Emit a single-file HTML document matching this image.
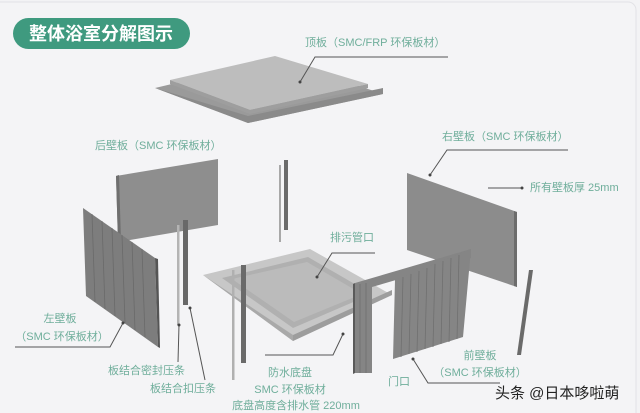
<!DOCTYPE html>
<html><head><meta charset="utf-8"><style>
html,body{margin:0;padding:0;background:#f3f3f5;}
svg{display:block}
text{font-family:"Liberation Sans","Noto Sans CJK SC",sans-serif;}
.l{fill:#6fae9b;font-size:11px}
.ln{stroke:#555;stroke-width:1;fill:none}
</style></head><body>
<svg width="640" height="413" viewBox="0 0 640 413" xmlns="http://www.w3.org/2000/svg">
<rect x="0" y="0" width="640" height="413" fill="#f3f3f5"/>
<rect x="-10" y="2" width="646" height="420" rx="8" fill="#f4f4f6" stroke="#e2e2e6"/>
<!-- title -->
<rect x="13" y="18" width="177" height="31" rx="15.5" fill="#3f9a7f"/>
<text x="101" y="40" font-size="18" font-weight="bold" fill="#fff" text-anchor="middle">整体浴室分解图示</text>

<!-- top panel -->
<polygon points="155,88 277,59 383,94 248,123" fill="#9a9a9a"/>
<polygon points="155,88 248,116 383,88 383,94 248,123" fill="#8a8a8a"/>
<polygon points="170,80 275,56 368,84 250,110" fill="#bdbdbd"/>
<polygon points="170,80 250,110 368,84 368,88 250,114 170,84" fill="#9e9e9e"/>
<text class="l" x="305" y="46">顶板（SMC/FRP 环保板材）</text>
<polyline class="ln" points="448,57 315,57 300,82"/>
<circle cx="300" cy="82" r="1.5" fill="#444"/>

<!-- back wall -->
<text class="l" x="95" y="149">后壁板（SMC 环保板材）</text>
<polygon points="116,176 218,159 218,225 118,242" fill="#8e8e8e"/>
<polygon points="116,176 119,175 121,241 118,242" fill="#6f6f6f"/>

<!-- center rods -->
<rect x="279" y="165" width="2" height="77" fill="#a8a8a8"/>
<rect x="284" y="160" width="4" height="70" fill="#6a6a6a"/>

<!-- right back wall -->
<text class="l" x="442" y="140">右壁板（SMC 环保板材）</text>
<polyline class="ln" points="568,150 447,150 430,175"/>
<circle cx="430" cy="175" r="1.5" fill="#444"/>
<text class="l" x="530" y="191">所有壁板厚 25mm</text>
<line class="ln" x1="488" y1="188" x2="522" y2="188"/>
<circle cx="522" cy="188" r="1.5" fill="#444"/>
<polygon points="407,173 517,212 517,287 407,250" fill="#8c8c8c"/>
<polygon points="514,211 517,212 517,287 514,286" fill="#6c6c6c"/>

<!-- left wall -->
<polygon points="83,208 155,258 158,347 86,296" fill="#7d7d7d"/>
<g stroke="#6a6a6a" stroke-width="0.8">
<line x1="92" y1="214" x2="95" y2="302"/><line x1="102" y1="221" x2="105" y2="309"/><line x1="112" y1="228" x2="115" y2="316"/><line x1="122" y1="235" x2="125" y2="323"/><line x1="132" y1="242" x2="135" y2="330"/><line x1="142" y1="249" x2="145" y2="337"/>
</g>
<polygon points="155,258 158,259 160,348 158,347" fill="#555"/>

<!-- rods left -->
<rect x="177" y="225" width="2.5" height="100" fill="#b4b4b4"/>
<rect x="183" y="220" width="5" height="85" fill="#686868"/>

<!-- tray -->
<polygon points="203,275 310,249 392,295 293,341" fill="#c7c7c7"/>
<polygon points="203,275 293,335 293,341" fill="#a9a9a9"/>
<polygon points="293,335 392,290 392,295 293,341" fill="#9d9d9d"/>
<polygon points="222,278 308,257 372,294 293,328" fill="#b0b0b0"/>
<polygon points="232,279 307,262 362,294 294,322" fill="#bbbbbb"/>
<text class="l" x="330" y="241">排污管口</text>
<polyline class="ln" points="375,253 332,253 317,277"/>
<circle cx="317" cy="277" r="1.5" fill="#444"/>

<!-- rods on tray -->
<rect x="232" y="270" width="2.5" height="110" fill="#b0b0b0"/>
<rect x="241" y="265" width="5" height="98" fill="#6a6a6a"/>

<!-- right rod -->
<polygon points="529,270 533,270 521,355 517,355" fill="#6a6a6a"/>

<!-- front wall -->
<polygon points="355,283 471,249 471,258 372,287 372,373 355,373" fill="#858585"/>
<polygon points="395,280 471,249 463,337 393,359" fill="#858585"/>
<g stroke="#707070" stroke-width="0.8">
<line x1="360" y1="284" x2="360" y2="373"/><line x1="366" y1="283" x2="366" y2="373"/>
<line x1="403" y1="277" x2="401" y2="357"/><line x1="411" y1="274" x2="409" y2="354"/><line x1="419" y1="271" x2="417" y2="352"/><line x1="427" y1="268" x2="425" y2="349"/><line x1="435" y1="264" x2="433" y2="347"/><line x1="443" y1="261" x2="441" y2="344"/><line x1="451" y1="258" x2="449" y2="342"/><line x1="459" y1="255" x2="457" y2="339"/>
</g>
<polygon points="353,284 355,283 355,373 353,374" fill="#5a5a5a"/>

<!-- left labels -->
<text class="l" x="60" y="322" text-anchor="middle">左壁板</text>
<text class="l" x="62" y="340" text-anchor="middle">（SMC 环保板材）</text>
<polyline class="ln" points="15,347 110,347 123,323"/>
<circle cx="123" cy="323" r="1.5" fill="#444"/>
<text class="l" x="108" y="374">板结合密封压条</text>
<polyline class="ln" points="178,362 179,325"/>
<circle cx="179" cy="325" r="1.5" fill="#444"/>
<text class="l" x="150" y="392">板结合扣压条</text>
<polyline class="ln" points="205,380 190,308"/>
<circle cx="190" cy="308" r="1.5" fill="#444"/>

<!-- tray labels -->
<text class="l" x="290" y="376" text-anchor="middle">防水底盘</text>
<text class="l" x="290" y="393" text-anchor="middle">SMC 环保板材</text>
<text class="l" x="296" y="409" text-anchor="middle">底盘高度含排水管 220mm</text>
<polyline class="ln" points="265,355 333,355 343,334"/>
<circle cx="343" cy="334" r="1.5" fill="#444"/>

<!-- front labels -->
<text class="l" x="388" y="385">门口</text>
<polyline class="ln" points="413,359 428,383 500,383"/>
<circle cx="413" cy="359" r="1.5" fill="#444"/>
<text class="l" x="480" y="359" text-anchor="middle">前壁板</text>
<text class="l" x="480" y="376" text-anchor="middle">（SMC 环保板材）</text>

<text x="495" y="398" font-size="15" fill="#222">头条 @日本哆啦萌</text>
</svg>
</body></html>
